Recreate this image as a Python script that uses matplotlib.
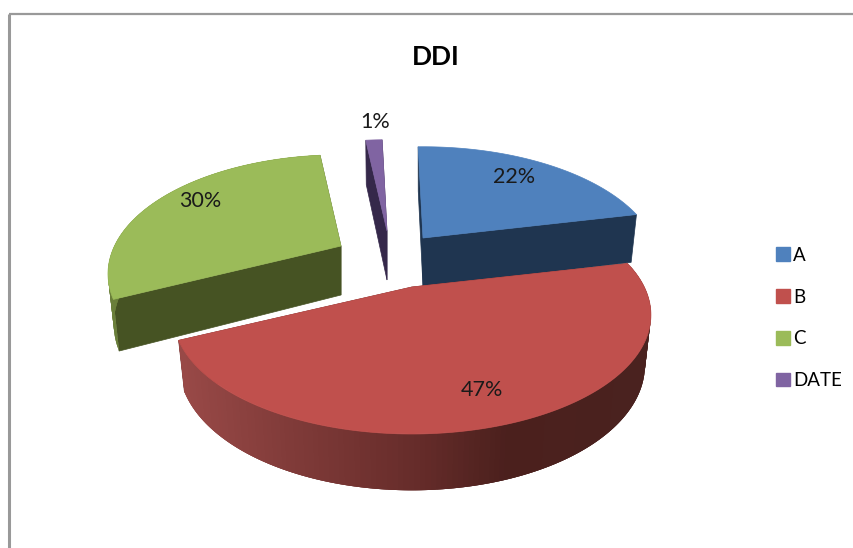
import numpy as np
import matplotlib
matplotlib.use("Agg")
import matplotlib.pyplot as plt
from matplotlib.patches import Patch

plt.rcParams["font.family"] = ["Lato", "DejaVu Sans"]

categories = ["A", "B", "C", "DATE"]
shares = [21.9, 46.5, 30.2, 1.4]
percent_labels = ["22%", "47%", "30%", "1%"]

top_colors = ["#4f81bd", "#c0504d", "#9bbb59", "#8064a2"]
side_colors = ["#1f3550", "#6b2e2c", "#465323", "#35284a"]
rim_colors = {1: [(175, "#9a4a48"), (300, "#7f3a38"), (420, "#662c2a"), (510, "#4b201d"), (650, "#4a221f")],
              2: [(100, "#6a7f3a"), (130, "#6a7f3a")]}

# apex of each exploded slice in image pixels, and a small size tweak per slice
apex_x = [423, 412, 341, 387]
apex_y = [238, 287, 246, 231]
slice_scale = [1.0, 1.01, 0.985, 1.0]
label_x = [514, 482, 200, 375]
label_y = [177, 390, 201, 122]

radius_x = 230
radius_y = 112.6
persp = 0.234
start_angle = -1.5
depth = 49


def rim(theta, scale):
    # circle seen in perspective, offsets from the apex
    w = 1 + persp * np.cos(theta)
    return scale * radius_x * np.sin(theta) / w, -radius_y * np.cos(theta) / w


def lower(dx, dy):
    return dx * 0.975, dy * 1.05 + depth


fig, ax = plt.subplots(figsize=(8.54, 5.48), dpi=100)
ax.set_position([0, 0, 1, 1])
ax.set_xlim(0, 854)
ax.set_ylim(548, 0)
ax.axis("off")

ax.plot([9, 9], [548, 14], color="#999999", lw=2.2, solid_capstyle="butt")
ax.plot([9, 854], [14, 14], color="#999999", lw=1.6, solid_capstyle="butt")

angles = start_angle + np.concatenate([[0], np.cumsum(shares)]) * 3.6

# back slices first, red sits in front of the others
for i in [0, 3, 2, 1]:
    x0, y0 = apex_x[i], apex_y[i]
    theta = np.radians(np.linspace(angles[i], angles[i + 1], 160))
    dx, dy = rim(theta, slice_scale[i])
    low_x, low_y = lower(dx, dy)

    # cut faces
    for j in [0, -1]:
        lx, ly = lower(dx[j], dy[j])
        ax.fill([x0, x0 + dx[j], x0 + lx, x0], [y0, y0 + dy[j], y0 + ly, y0 + depth],
                color=side_colors[i], lw=0.5, zorder=2)

    # outer wall, strips overlap a little so no seams show
    if i in rim_colors:
        stops = rim_colors[i]
        pos = [s[0] for s in stops]
        rgb = np.array([matplotlib.colors.to_rgb(s[1]) for s in stops])
        for k in range(len(theta) - 1):
            m = min(k + 3, len(theta) - 1)
            col = [np.interp(x0 + dx[k], pos, rgb[:, c]) for c in range(3)]
            ax.fill([x0 + dx[k], x0 + dx[m], x0 + low_x[m], x0 + low_x[k]],
                    [y0 + dy[k], y0 + dy[m], y0 + low_y[m], y0 + low_y[k]],
                    color=col, lw=0, zorder=2)

    ax.fill(np.r_[x0, x0 + dx], np.r_[y0, y0 + dy], color=top_colors[i], lw=0.5, zorder=3)
    ax.text(label_x[i], label_y[i], percent_labels[i], fontsize=15.5, color="#1a1a1a",
            ha="center", va="center", zorder=5)

ax.text(436, 57, "DDI", fontsize=19, fontweight="bold", color="black", ha="center", va="center")

handles = [Patch(color=c) for c in top_colors]
ax.legend(handles, categories, loc="center left", bbox_to_anchor=(776 / 854, 1 - 318 / 548),
          frameon=False, fontsize=13.5, handlelength=0.75, handleheight=0.75,
          labelspacing=1.32, handletextpad=0.15, borderpad=0, borderaxespad=0)

fig.savefig("out.png", dpi=100)
